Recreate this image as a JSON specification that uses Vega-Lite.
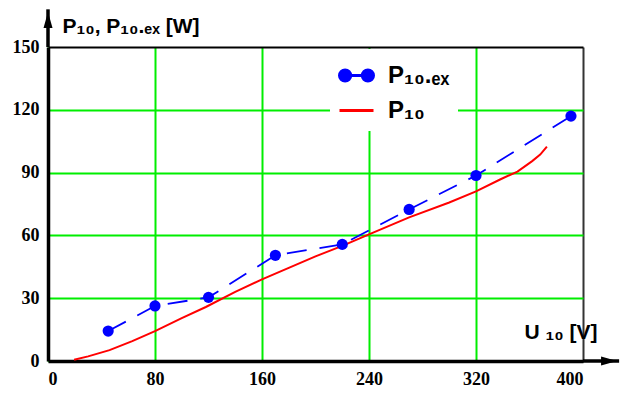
{
  "$schema": "https://vega.github.io/schema/vega-lite/v6.json",
  "width": 535,
  "height": 314,
  "autosize": {"type": "none"},
  "padding": {"left": 48, "top": 47, "right": 42, "bottom": 35},
  "background": "white",
  "config": {
    "view": {"stroke": null},
    "axis": {
      "gridWidth": 2,
      "domainColor": "#000000",
      "domainWidth": 3.5,
      "ticks": false,
      "labelFont": "Liberation Serif",
      "labelFontWeight": "bold",
      "labelFontSize": 18,
      "labelColor": "#000000",
      "titleFont": "Liberation Sans",
      "titleFontWeight": "bold",
      "titleFontSize": 21,
      "titleColor": "#000000"
    }
  },
  "data": {
    "values": [
      {"series": "P₁₀.ₑₓ", "U": 45, "P": 14.3},
      {"series": "P₁₀.ₑₓ", "U": 80, "P": 26.3},
      {"series": "P₁₀.ₑₓ", "U": 120, "P": 30.4},
      {"series": "P₁₀.ₑₓ", "U": 170, "P": 50.5},
      {"series": "P₁₀.ₑₓ", "U": 220, "P": 55.7},
      {"series": "P₁₀.ₑₓ", "U": 270, "P": 72.4},
      {"series": "P₁₀.ₑₓ", "U": 320, "P": 88.6},
      {"series": "P₁₀.ₑₓ", "U": 391, "P": 117},
      {"series": "P₁₀", "U": 19.5, "P": 0.6},
      {"series": "P₁₀", "U": 30, "P": 2.2},
      {"series": "P₁₀", "U": 46, "P": 5.2},
      {"series": "P₁₀", "U": 63, "P": 9.5},
      {"series": "P₁₀", "U": 80, "P": 14.3},
      {"series": "P₁₀", "U": 100, "P": 20.5},
      {"series": "P₁₀", "U": 118, "P": 25.8},
      {"series": "P₁₀", "U": 140, "P": 33},
      {"series": "P₁₀", "U": 160, "P": 39},
      {"series": "P₁₀", "U": 180, "P": 44.5},
      {"series": "P₁₀", "U": 200, "P": 50},
      {"series": "P₁₀", "U": 220, "P": 55},
      {"series": "P₁₀", "U": 240, "P": 60.5},
      {"series": "P₁₀", "U": 270, "P": 68.6},
      {"series": "P₁₀", "U": 300, "P": 75.7},
      {"series": "P₁₀", "U": 320, "P": 81},
      {"series": "P₁₀", "U": 338, "P": 86.7},
      {"series": "P₁₀", "U": 351, "P": 90.5},
      {"series": "P₁₀", "U": 362, "P": 95.5},
      {"series": "P₁₀", "U": 368, "P": 98.6},
      {"series": "P₁₀", "U": 373, "P": 102.4}
    ]
  },
  "encoding": {
    "x": {
      "field": "U", "type": "quantitative",
      "scale": {"domain": [0, 400], "nice": false, "zero": false},
      "axis": {
        "values": [0, 80, 160, 240, 320, 400],
        "labelPadding": 9,
        "gridColor": {"condition": {"test": "datum.value === 400", "value": "#333333"}, "value": "#00ee00"},
        "title": "U ₁₀ [V]",
        "titleAnchor": "start",
        "titleAlign": "right",
        "titleBaseline": "alphabetic",
        "titleX": 549,
        "titleY": -23
      }
    },
    "y": {
      "field": "P", "type": "quantitative",
      "scale": {"domain": [0, 150], "nice": false},
      "axis": {
        "values": [0, 30, 60, 90, 120, 150],
        "labelPadding": 9,
        "gridColor": {"condition": {"test": "datum.value === 150", "value": "#000000"}, "value": "#00ee00"},
        "title": "P₁₀, P₁₀.ₑₓ [W]",
        "titleAngle": 0,
        "titleAnchor": "start",
        "titleAlign": "left",
        "titleBaseline": "alphabetic",
        "titleX": 14,
        "titleY": -15
      }
    },
    "color": {
      "field": "series", "type": "nominal",
      "scale": {"domain": ["P₁₀.ₑₓ", "P₁₀"], "range": ["#0000ff", "#ff0000"]},
      "legend": {
        "title": null,
        "orient": "none",
        "legendX": 282,
        "legendY": 2,
        "padding": 8,
        "fillColor": "white",
        "rowPadding": 4,
        "labelFont": "Liberation Sans",
        "labelFontWeight": "bold",
        "labelFontSize": 24,
        "labelColor": "#000000",
        "labelOffset": 13,
        "symbolSize": 1156,
        "symbolStrokeWidth": 3,
        "encode": {
          "symbols": {
            "update": {
              "shape": {"signal": "datum.value === 'P₁₀' ? 'M-1,0L1,0' : 'M-1,0A0.33,0.33 0 1,0 -0.34,0A0.33,0.33 0 1,0 -1,0ZM0.34,0A0.33,0.33 0 1,0 1,0A0.33,0.33 0 1,0 0.34,0ZM-0.67,0L0.67,0'"},
              "fill": {"signal": "datum.value === 'P₁₀' ? 'transparent' : '#0000ff'"},
              "fillOpacity": {"value": 1},
              "strokeDash": {"value": []},
              "strokeWidth": {"value": 3},
              "size": {"value": 1156}
            }
          }
        }
      }
    }
  },
  "layer": [
    {
      "transform": [{"filter": "datum.series === 'P₁₀'"}],
      "mark": {"type": "line", "strokeWidth": 2}
    },
    {
      "transform": [{"filter": "datum.series === 'P₁₀.ₑₓ'"}],
      "mark": {"type": "line", "strokeWidth": 1.8, "strokeDash": [20, 13]}
    },
    {
      "transform": [{"filter": "datum.series === 'P₁₀.ₑₓ'"}],
      "mark": {"type": "circle", "size": 125, "opacity": 1}
    },
    {
      "transform": [{"filter": "datum.U === 391"}],
      "mark": {"type": "rule", "strokeWidth": 3.5, "clip": false, "color": "#000000"},
      "encoding": {
        "x": {"datum": 0},
        "y": {"datum": 150},
        "y2": {"datum": 168},
        "color": {"value": "#000000"}
      }
    },
    {
      "transform": [{"filter": "datum.U === 391"}],
      "mark": {"type": "rule", "strokeWidth": 3.5, "clip": false, "color": "#000000"},
      "encoding": {
        "x": {"datum": 400},
        "x2": {"datum": 427},
        "y": {"datum": 0},
        "color": {"value": "#000000"}
      }
    },
    {
      "transform": [{"filter": "datum.U === 391"}],
      "mark": {"type": "point", "shape": "M0,-1L0.45,0.6L-0.45,0.6Z", "size": 400, "filled": true, "opacity": 1, "clip": false, "color": "#000000"},
      "encoding": {
        "x": {"datum": 0},
        "y": {"datum": 162},
        "color": {"value": "#000000"}
      }
    },
    {
      "transform": [{"filter": "datum.U === 391"}],
      "mark": {"type": "point", "shape": "M1,0L-0.6,0.45L-0.6,-0.45Z", "size": 400, "filled": true, "opacity": 1, "clip": false, "color": "#000000"},
      "encoding": {
        "x": {"datum": 418},
        "y": {"datum": 0},
        "color": {"value": "#000000"}
      }
    }
  ]
}
